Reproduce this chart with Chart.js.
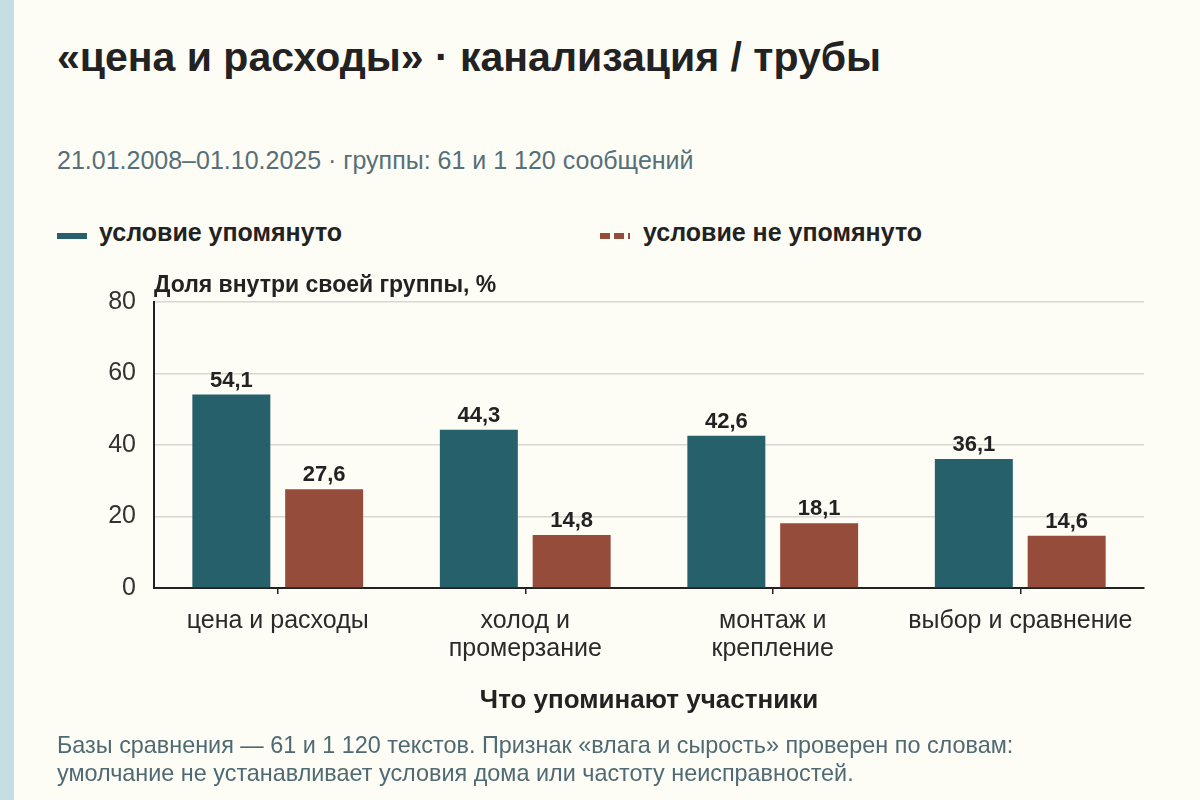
<!DOCTYPE html>
<html lang="ru">
<head>
<meta charset="utf-8">
<script src="https://cdn.jsdelivr.net/npm/chart.js@4/dist/chart.umd.min.js"></script>
<style>
  html, body { margin: 0; padding: 0; }
  body {
    width: 1200px; height: 800px; position: relative; overflow: hidden;
    background: #fdfcf5;
    font-family: "Liberation Sans", Arial, sans-serif;
    color: #222;
  }
  .strip { position: absolute; left: 0; top: 0; width: 14px; height: 800px; background: #c4dfe1; }
  .txt { position: absolute; white-space: nowrap; line-height: 1.2; }
  #title { left: 57px; top: 33px; font-size: 41px; font-weight: bold; color: #222; }
  #subtitle { left: 57px; top: 145px; font-size: 25px; color: #557079; }
  .leg { position: absolute; top: 217px; font-size: 25px; line-height: 1.2; font-weight: bold; color: #222; white-space: nowrap; }
  .sw { position: absolute; top: 233px; width: 30px; height: 6px; }
  #ytitle { left: 154px; top: 271px; font-size: 23px; font-weight: bold; color: #222; }
  #xtitle { left: 154px; width: 990px; text-align: center; top: 684px; font-size: 26px; font-weight: bold; color: #222; }
  #note { left: 57px; top: 731px; font-size: 23.4px; line-height: 28px; color: #4f6a72; }
  canvas { position: absolute; left: 0; top: 0; }
</style>
</head>
<body>
<div class="strip"></div>
<div class="txt" id="title">«цена и расходы» · канализация / трубы</div>
<div class="txt" id="subtitle">21.01.2008–01.10.2025 · группы: 61 и 1 120 сообщений</div>

<div class="sw" style="left:57px;background:#25606b;"></div>
<div class="leg" style="left:99px;">условие упомянуто</div>
<div class="sw" style="left:600px;background:repeating-linear-gradient(90deg,#964c3a 0 10px,transparent 10px 14px);"></div>
<div class="leg" style="left:643px;">условие не упомянуто</div>

<canvas id="chart" width="1200" height="800"></canvas>

<div class="txt" id="ytitle">Доля внутри своей группы, %</div>
<div class="txt" id="xtitle">Что упоминают участники</div>
<div class="txt" id="note">Базы сравнения — 61 и 1 120 текстов. Признак «влага и сырость» проверен по словам:<br>умолчание не устанавливает условия дома или частоту неисправностей.</div>

<script>
// categories (multi-line labels as arrays)
const categories = [
    ['цена и расходы'],
    ['холод и', 'промерзание'],
    ['монтаж и', 'крепление'],
    ['выбор и сравнение']
]
const seriesNames = ['условие упомянуто', 'условие не упомянуто']
const mentioned = [54.1, 44.3, 42.6, 36.1]
const notMentioned = [27.6, 14.8, 18.1, 14.6]
const yTicks = [0, 20, 40, 60, 80]

const FONT = '"Liberation Sans", Arial, sans-serif'

const fmt = v => v.toFixed(1).replace('.', ',')

// value labels over the bars
const barLabels = {
    id: 'barLabels',
    afterDatasetsDraw(chart) {
        const ctx = chart.ctx
        ctx.save()
        ctx.font = 'bold 22px ' + FONT
        ctx.fillStyle = '#222'
        ctx.textAlign = 'center'
        ctx.textBaseline = 'alphabetic'
        chart.data.datasets.forEach((ds, i) => {
            chart.getDatasetMeta(i).data.forEach((bar, j) => {
                ctx.fillText(fmt(ds.data[j]), bar.x, bar.y - 8)
            })
        })
        ctx.restore()
    }
}

new Chart(document.getElementById('chart'), {
    type: 'bar',
    data: {
        labels: categories,
        datasets: [
            { label: seriesNames[0], data: mentioned, backgroundColor: '#25606b' },
            { label: seriesNames[1], data: notMentioned, backgroundColor: '#964c3a' }
        ]
    },
    options: {
        responsive: false,
        animation: false,
        devicePixelRatio: 1,
        layout: { padding: { left: 14, right: 56, top: 302, bottom: 132 } },
        categoryPercentage: 0.75,
        barPercentage: 0.84,
        plugins: {
            legend: { display: false },
            tooltip: { enabled: false }
        },
        scales: {
            x: {
                grid: {
                    offset: false,
                    drawOnChartArea: false,
                    drawTicks: true,
                    tickLength: 6,
                    tickColor: '#222',
                    lineWidth: 1.5
                },
                border: { display: true, color: '#222', width: 2 },
                ticks: {
                    color: '#2a2a2a',
                    padding: 13,
                    maxRotation: 0,
                    font: { family: FONT, size: 25, lineHeight: 1.12 }
                },
                afterFit: s => { s.height = 80 }
            },
            y: {
                min: yTicks[0],
                max: yTicks[yTicks.length - 1],
                afterBuildTicks: s => { s.ticks = yTicks.map(v => ({ value: v })) },
                grid: { color: '#d9d7d0', lineWidth: 1.5, drawTicks: false },
                border: { display: true, color: '#222', width: 2 },
                ticks: {
                    color: '#333',
                    padding: 18,
                    font: { family: FONT, size: 25 }
                },
                afterFit: s => { s.width = 140 }
            }
        }
    },
    plugins: [barLabels]
})
</script>
</body>
</html>
